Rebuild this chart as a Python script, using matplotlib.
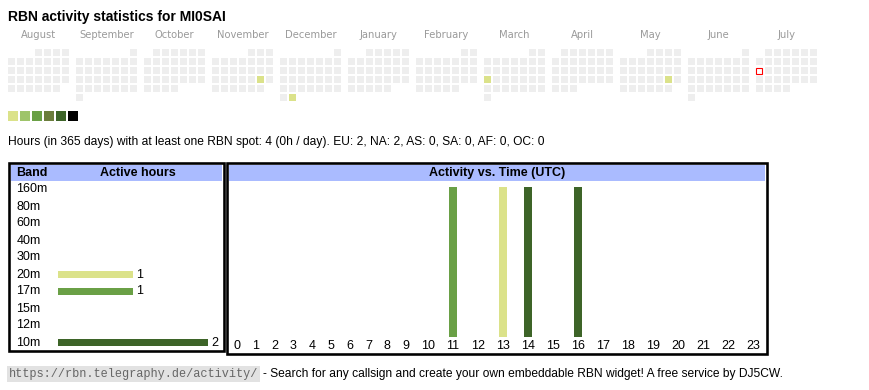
import calendar
import matplotlib
matplotlib.use('Agg')
import matplotlib.pyplot as plt
from matplotlib.patches import Rectangle

plt.rcParams['font.family'] = ['Liberation Sans', 'DejaVu Sans']

# --- data -------------------------------------------------------------
callsign = 'MI0SAI'
months = [(2024, 8), (2024, 9), (2024, 10), (2024, 11), (2024, 12), (2025, 1),
          (2025, 2), (2025, 3), (2025, 4), (2025, 5), (2025, 6), (2025, 7)]
active_days = ['2024-11-23', '2024-12-31', '2025-03-17', '2025-05-24']
active_levels = [1, 1, 1, 1]
today = '2025-07-14'
level_colors = ['#dbe28a', '#9ec46a', '#6aa046', '#6b7d3c', '#3d6428', '#000000']

bands = ['160m', '80m', '60m', '40m', '30m', '20m', '17m', '15m', '12m', '10m']
band_hours = [0, 0, 0, 0, 0, 1, 1, 0, 0, 2]
band_colors = {'20m': '#dbe28a', '17m': '#6aa046', '10m': '#3d6428'}

hours = list(range(24))
active_hours = [11, 13, 14, 16]
hour_band = ['17m', '20m', '10m', '10m']

summary = ('Hours (in 365 days) with at least one RBN spot: 4 (0h / day). '
           'EU: 2, NA: 2, AS: 0, SA: 0, AF: 0, OC: 0')
url = 'https://rbn.telegraphy.de/activity/'
footer = ('- Search for any callsign and create your own embeddable RBN widget! '
          'A free service by DJ5CW.')

W, H = 870, 390
fig = plt.figure(figsize=(W / 100, H / 100), dpi=100)
ax = fig.add_axes([0, 0, 1, 1])
ax.set_xlim(0, W)
ax.set_ylim(H, 0)
ax.axis('off')


def px_axes(left, top, width, height):
    a = fig.add_axes([left / W, 1 - (top + height) / H, width / W, height / H])
    a.patch.set_alpha(0)
    for s in a.spines.values():
        s.set_visible(False)
    return a


ax.text(8, 21, f'RBN activity statistics for {callsign}', fontsize=10,
        fontweight='bold', va='baseline')

# --- calendar ---------------------------------------------------------
cell, pitch, block = 7, 9, 68
cal_x, cal_y = 8, 49
active = dict(zip(active_days, active_levels))
for m, (yr, mo) in enumerate(months):
    x0 = cal_x + m * block
    ax.text(x0 + (7 * pitch - 2) / 2, 38, calendar.month_name[mo],
            family='DejaVu Sans', fontsize=7.2, color='#9a9a9a',
            ha='center', va='baseline')
    first_wd, ndays = calendar.monthrange(yr, mo)
    for d in range(1, ndays + 1):
        wd = (first_wd + d - 1) % 7
        row = (first_wd + d - 1) // 7
        key = f'{yr}-{mo:02d}-{d:02d}'
        x, y = x0 + wd * pitch, cal_y + row * pitch
        if key == today:
            ax.add_patch(Rectangle((x + 0.5, y + 0.5), cell - 1, cell - 1,
                                   facecolor='white', edgecolor='#ff0000', lw=0.8))
        else:
            c = level_colors[active[key] - 1] if key in active else '#eeeeee'
            ax.add_patch(Rectangle((x, y), cell, cell, facecolor=c, lw=0))

for i, c in enumerate(level_colors):
    ax.add_patch(Rectangle((8 + i * 12, 111), 10, 10, facecolor=c, lw=0))

ax.text(8, 142, summary, fontsize=8.65, va='center')

# --- boxes ------------------------------------------------------------
bw = 2.6
for (x0, y0, x1, y1) in [(8, 162, 225, 352), (226, 162, 768, 355)]:
    ax.add_patch(Rectangle((x0 + bw, y0 + bw), x1 - x0 - 2 * bw, 181 - y0 - bw,
                           facecolor='#aabbff', lw=0))
    ax.add_patch(Rectangle((x0 + bw / 2, y0 + bw / 2), x1 - x0 - bw, y1 - y0 - bw,
                           facecolor='none', edgecolor='black', lw=bw * 0.72))
ax.text(16, 173, 'Band', fontsize=9, fontweight='bold', va='center')
ax.text(138, 173, 'Active hours', fontsize=9, fontweight='bold',
        va='center', ha='center')
ax.text(497, 173, 'Activity vs. Time (UTC)', fontsize=9, fontweight='bold',
        va='center', ha='center')

# --- active hours per band --------------------------------------------
row_h = 17
axb = px_axes(58, 189.5 - row_h / 2, 150, row_h * len(bands))
ypos = list(range(len(bands)))
cols = [band_colors.get(b, '#dbe28a') for b in bands]
bars = axb.barh(ypos, band_hours, height=7 / row_h, color=cols)
axb.bar_label(bars, labels=[str(v) if v else '' for v in band_hours],
              padding=2.5, fontsize=9)
axb.set_xlim(0, 2)
axb.set_ylim(len(bands) - 0.5, -0.5)
axb.set_xticks([])
axb.set_yticks([])
for y, b in zip(ypos, bands):
    axb.text(-41.5 / 150, y, b, fontsize=9, va='center',
             transform=axb.get_yaxis_transform())

# --- activity vs time -------------------------------------------------
widths = [18.8 if h < 10 else 25 for h in hours]
edges = [sum(widths[:i]) for i in range(len(widths) + 1)]
centers = [(edges[i] + edges[i + 1]) / 2 for i in range(len(hours))]
axh = px_axes(227.6, 187, edges[-1], 150)
axh.bar([centers[h] for h in active_hours], [1] * len(active_hours), width=8,
        color=[band_colors[b] for b in hour_band])
axh.set_xlim(0, edges[-1])
axh.set_ylim(0, 1)
axh.set_yticks([])
axh.set_xticks(centers, [str(h) for h in hours])
axh.tick_params(axis='x', length=0, pad=2.2, labelsize=9)

# --- footer -----------------------------------------------------------
ax.text(9, 374, url, family='Liberation Mono', fontsize=8.6, color='#666666',
        va='center', bbox=dict(facecolor='#e2e2e2', edgecolor='none', pad=1.2))
ax.text(263, 374, footer, fontsize=8.63, va='center')

fig.savefig('out.png', dpi=100)
